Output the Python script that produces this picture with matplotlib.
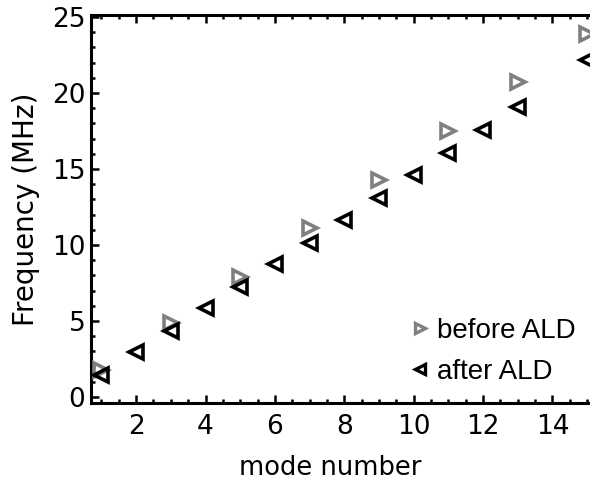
import matplotlib
matplotlib.use("Agg")
import matplotlib.pyplot as plt
from matplotlib.lines import Line2D
from matplotlib.ticker import MultipleLocator

# Resonance frequencies of the mechanical modes
modes_before = [1, 3, 5, 7, 9, 11, 13, 15]
freq_before = [1.78, 4.85, 7.92, 11.1, 14.3, 17.5, 20.7, 23.9]

modes_after = [1, 2, 3, 4, 5, 6, 7, 8, 9, 10, 11, 12, 13, 15]
freq_after = [1.45, 2.94, 4.34, 5.84, 7.22, 8.73, 10.15, 11.64, 13.1,
              14.6, 16.07, 17.57, 19.1, 22.2]

labels = ["before ALD", "after ALD"]
color_before = "#808080"
color_after = "#000000"

W, H = 590, 484
fig = plt.figure(figsize=(W / 100, H / 100), dpi=100)

# axes box in pixels: left spine at x=91, bottom spine at y=403, top at y=15
left_px, right_px, top_px, bottom_px = 91, 597.6, 15, 403
ax = fig.add_axes([left_px / W, 1 - bottom_px / H,
                   (right_px - left_px) / W, (bottom_px - top_px) / H])

ax.plot(modes_before, freq_before, linestyle="none", marker=">",
        markersize=9.5, markerfacecolor="none", markeredgecolor=color_before,
        markeredgewidth=2.6, clip_on=False, zorder=3)
ax.plot(modes_after, freq_after, linestyle="none", marker="<",
        markersize=9.5, markerfacecolor="none", markeredgecolor=color_after,
        markeredgewidth=2.6, clip_on=False, zorder=4)

ax.set_xlim(0.7, 15.3)
ax.set_ylim(-0.39, 25.13)

ax.xaxis.set_major_locator(MultipleLocator(2))
ax.xaxis.set_minor_locator(MultipleLocator(0.5))
ax.yaxis.set_major_locator(MultipleLocator(5))
ax.yaxis.set_minor_locator(MultipleLocator(1))

for s in ax.spines.values():
    s.set_linewidth(2.2)

ax.tick_params(which="both", direction="in", top=True, right=True,
               width=1.8, labelsize=19, color="black")
ax.tick_params(which="major", length=5.5)
ax.tick_params(which="minor", length=3)
ax.tick_params(axis="y", which="major", pad=4)
ax.tick_params(axis="x", which="major", pad=8)

ax.set_xlabel("mode number", fontsize=18.5)
ax.set_ylabel("Frequency (MHz)", fontsize=20)
ax.xaxis.set_label_coords((330 - left_px) / (right_px - left_px), -0.135)
ax.yaxis.set_label_coords((40 - left_px) / (right_px - left_px), 0.5)

handles = [
    Line2D([], [], linestyle="none", marker=">", markersize=7,
           markerfacecolor="none", markeredgecolor=color_before,
           markeredgewidth=2.4),
    Line2D([], [], linestyle="none", marker="<", markersize=7,
           markerfacecolor="none", markeredgecolor=color_after,
           markeredgewidth=2.4),
]
leg = ax.legend(handles, labels, loc="lower left",
                bbox_to_anchor=((412 - left_px) / (right_px - left_px),
                                (bottom_px - 385) / (bottom_px - top_px)),
                frameon=False, handlelength=0.6, handletextpad=0.3,
                labelspacing=0.55, borderpad=0, borderaxespad=0,
                prop={"family": "Liberation Sans", "size": 20})

fig.savefig("out.png", dpi=100)
